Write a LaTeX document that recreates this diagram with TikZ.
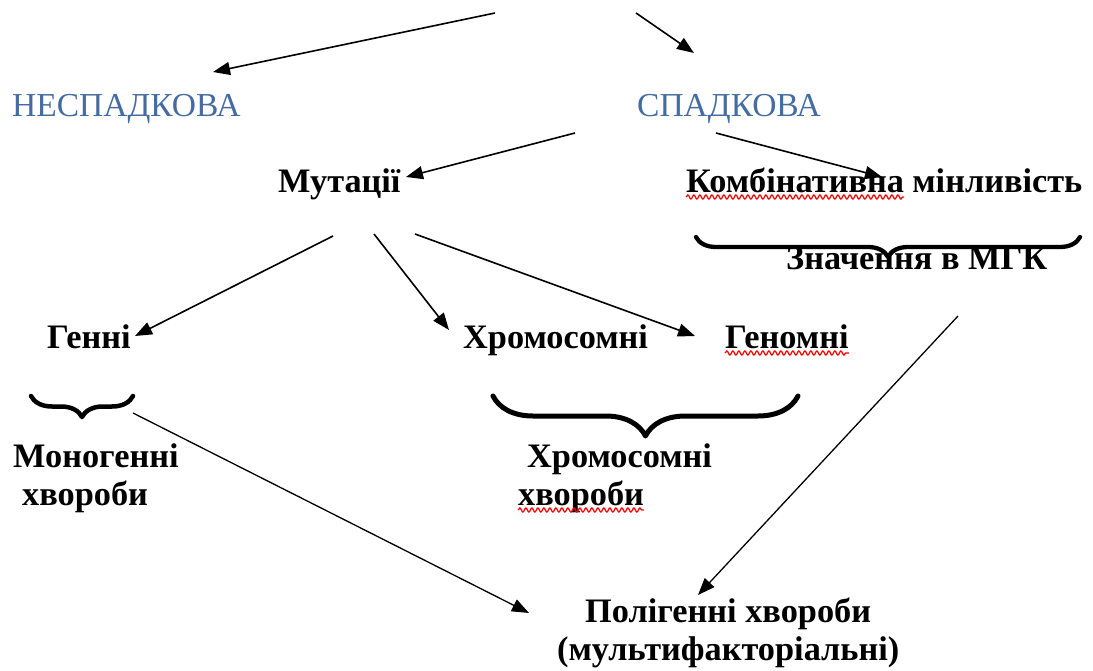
\documentclass[tikz,border=0pt]{standalone}
\usepackage{fontspec}
\setmainfont{Liberation Serif}
\usetikzlibrary{arrows.meta,decorations.pathreplacing,decorations.pathmorphing,calc}
\definecolor{headblue}{RGB}{68,108,160}
\begin{document}
\begin{tikzpicture}[x=1pt,y=-1pt,
  lbl/.style={font=\fontsize{34.3}{40}\selectfont\bfseries, inner sep=0pt, anchor=base west},
  bluelbl/.style={font=\fontsize{33.5}{40}\selectfont, text=headblue, inner sep=0pt, anchor=base west},
  arr/.style={line width=1.6pt, -{Triangle[length=17pt,width=13pt]}},
  brc/.style={decorate, decoration={brace,mirror,amplitude=#1}, line cap=round, line join=round},
  spell/.style={draw=red, line width=1.3pt, decorate, decoration={snake, amplitude=2pt, segment length=6pt}}]
\useasboundingbox (0,0) rectangle (1093,671);

% headings
\node[bluelbl] (nesp) at (12,117) {НЕСПАДКОВА};
\node[bluelbl] (spad) at (637,117) {СПАДКОВА};

% level 2
\node[lbl] (mut) at (278,193) {Мутації};
\node[lbl] (kombA) at (686,193) {Комбінативна};
\node[lbl, anchor=base west] (kombB) at ($(kombA.base east)+(8,0)$) {мінливість};
\node[lbl] (znach) at (786,270) {Значення в МГК};

% level 3
\node[lbl] (genni) at (47,348) {Генні};
\node[lbl] (chrom) at (463,348) {Хромосомні};
\node[lbl] (genom) at (725,348) {Геномні};

% diseases
\node[lbl] (mono1) at (13,467) {Моногенні};
\node[lbl] (mono2) at (22,505) {хвороби};
\node[lbl] (chd1) at (527,467) {Хромосомні};
\node[lbl] (chd2) at (518,505) {хвороби};
\node[lbl] (poly1) at (585,622) {Полігенні хвороби};
\node[lbl] (poly2) at (557,660) {(мультифакторіальні)};

% spell-check underlines
\draw[spell] ($(kombA.base west)+(0,4)$) -- ($(kombA.base east)+(0,4)$);
\draw[spell] ($(genom.base west)+(0,5)$) -- ($(genom.base east)+(0,5)$);
\draw[spell] ($(chd2.base west)+(0,5)$) -- ($(chd2.base east)+(0,5)$);

% braces
\coordinate (bk1) at (696,237); \coordinate (bk2) at (1080,237);
\coordinate (bg1) at (31,396);  \coordinate (bg2) at (133,396);
\coordinate (bc1) at (493,396); \coordinate (bc2) at (798,396);
\draw[brc=20, line width=4.3pt] (bk1) -- (bk2);
\draw[brc=21, line width=4.5pt] (bg1) -- (bg2);
\draw[brc=40, line width=5pt] (bc1) -- (bc2);

% arrow end points
\coordinate (top1) at (495,13);
\coordinate (top2) at (636,13);
\coordinate (a1) at (213,72);
\coordinate (a2) at (694,53);
\coordinate (s1) at (575,133); \coordinate (s1e) at (406,177);
\coordinate (s2) at (716,133); \coordinate (s2e) at (882,177);
\coordinate (m1) at (333,236); \coordinate (m1e) at (135,336);
\coordinate (m2) at (374,234); \coordinate (m2e) at (449,330);
\coordinate (m3) at (415,234); \coordinate (m3e) at (695,336);
\coordinate (g1) at (133,413); \coordinate (g1e) at (529,613);
\coordinate (z1) at (958,316); \coordinate (z1e) at (698,595);

\draw[arr] (top1) -- (a1);
\draw[arr] (top2) -- (a2);
\draw[arr] (s1) -- (s1e);
\draw[arr] (s2) -- (s2e);
\draw[arr] (m1) -- (m1e);
\draw[arr] (m2) -- (m2e);
\draw[arr] (m3) -- (m3e);
\draw[arr, line width=1.3pt] (g1) -- (g1e);
\draw[arr, line width=1.3pt] (z1) -- (z1e);
\end{tikzpicture}
\end{document}
